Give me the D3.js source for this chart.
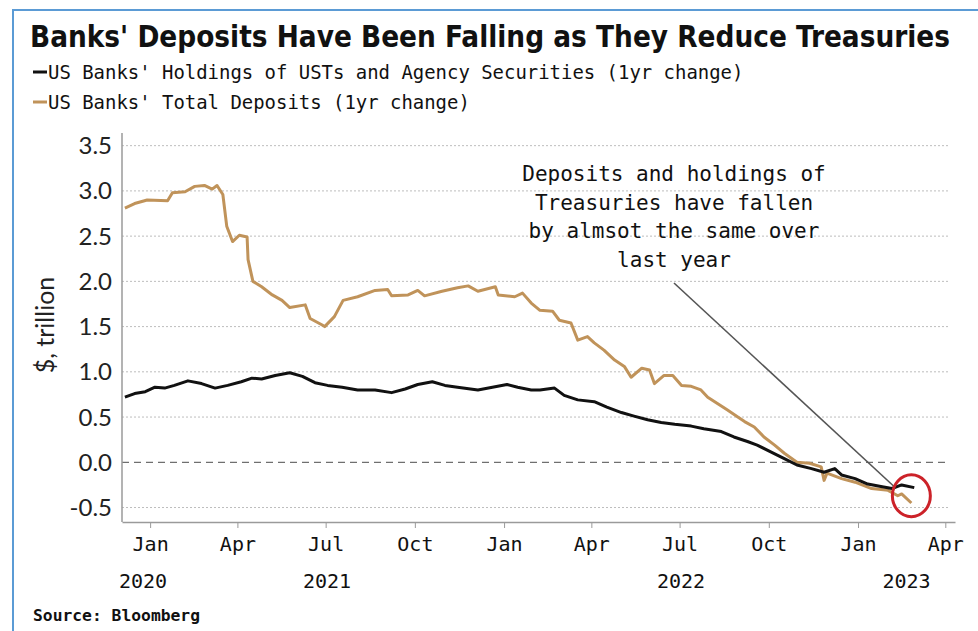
<!DOCTYPE html>
<html>
<head>
<meta charset="utf-8">
<script src="https://cdn.jsdelivr.net/npm/d3@7"></script>
<style>
  body { margin: 0; background: #fff; }
</style>
</head>
<body>
<svg id="chart" width="978" height="631"></svg>
<script>
// ---- Data -------------------------------------------------------------
const titleText = "Banks' Deposits Have Been Falling as They Reduce Treasuries";
const seriesNames = [
  "US Banks' Holdings of USTs and Agency Securities (1yr change)",
  "US Banks' Total Deposits (1yr change)"
];

// US banks' holdings of Treasuries and agency securities, 1yr change ($ trillion)
const holdingsDates = [
  "2020-12-06","2020-12-16","2020-12-27","2021-01-06","2021-01-16","2021-01-26",
  "2021-02-09","2021-02-23","2021-03-09","2021-03-22","2021-04-05","2021-04-16",
  "2021-04-26","2021-05-10","2021-05-25","2021-06-07","2021-06-20","2021-07-03",
  "2021-07-18","2021-08-03","2021-08-21","2021-09-07","2021-09-21","2021-10-04",
  "2021-10-19","2021-11-01","2021-11-14","2021-12-05","2021-12-20","2022-01-04",
  "2022-01-15","2022-01-29","2022-02-07","2022-02-22","2022-03-04","2022-03-18",
  "2022-04-04","2022-04-17","2022-05-02","2022-05-15","2022-05-29","2022-06-12",
  "2022-06-26","2022-07-13","2022-07-26","2022-08-13","2022-08-26","2022-09-09",
  "2022-09-19","2022-10-04","2022-10-17","2022-10-30","2022-11-14","2022-11-27",
  "2022-12-08","2022-12-15","2022-12-29","2023-01-11","2023-01-26","2023-02-05",
  "2023-02-15","2023-02-28"
];
const holdingsValues = [
  0.72, 0.76, 0.78, 0.83, 0.82, 0.85,
  0.90, 0.87, 0.82, 0.85, 0.89, 0.93,
  0.92, 0.96, 0.99, 0.95, 0.88, 0.85,
  0.83, 0.80, 0.80, 0.77, 0.81, 0.86,
  0.89, 0.85, 0.83, 0.80, 0.83, 0.86,
  0.83, 0.80, 0.80, 0.82, 0.74, 0.69,
  0.67, 0.61, 0.55, 0.51, 0.47, 0.44,
  0.42, 0.40, 0.37, 0.34, 0.28, 0.23,
  0.19, 0.11, 0.04, -0.03, -0.07, -0.11,
  -0.07, -0.14, -0.18, -0.24, -0.27, -0.29,
  -0.25, -0.28
];

// US banks' total deposits, 1yr change ($ trillion)
const depositsDates = [
  "2020-12-06","2020-12-16","2020-12-29","2021-01-19","2021-01-24","2021-02-06",
  "2021-02-16","2021-02-26","2021-03-06","2021-03-11","2021-03-17","2021-03-21",
  "2021-03-27","2021-04-03","2021-04-11","2021-04-12","2021-04-17","2021-04-26",
  "2021-05-07","2021-05-17","2021-05-25","2021-06-10","2021-06-15","2021-06-27",
  "2021-06-30","2021-07-10","2021-07-19","2021-08-03","2021-08-21","2021-09-03",
  "2021-09-07","2021-09-24","2021-10-04","2021-10-11","2021-10-29","2021-11-14",
  "2021-11-25","2021-12-05","2021-12-23","2021-12-26","2022-01-12","2022-01-20",
  "2022-01-29","2022-02-07","2022-02-20","2022-02-27","2022-03-11","2022-03-18",
  "2022-03-28","2022-04-04","2022-04-14","2022-04-25","2022-05-05","2022-05-12",
  "2022-05-23","2022-05-31","2022-06-05","2022-06-15","2022-06-24","2022-07-03",
  "2022-07-13","2022-07-23","2022-07-30","2022-08-09","2022-08-19","2022-08-30",
  "2022-09-06","2022-09-16","2022-09-26","2022-10-07","2022-10-17","2022-10-30",
  "2022-11-12","2022-11-24","2022-11-27","2022-11-30","2022-12-15","2022-12-29",
  "2023-01-15","2023-02-01","2023-02-11","2023-02-15","2023-02-25"
];
const depositsValues = [
  2.81, 2.86, 2.90, 2.89, 2.98, 2.99,
  3.05, 3.06, 3.02, 3.06, 2.96, 2.61,
  2.44, 2.51, 2.49, 2.24, 2.00, 1.94,
  1.85, 1.79, 1.71, 1.74, 1.59, 1.52,
  1.50, 1.61, 1.79, 1.83, 1.90, 1.91,
  1.84, 1.85, 1.90, 1.84, 1.89, 1.93,
  1.95, 1.89, 1.94, 1.85, 1.83, 1.87,
  1.76, 1.68, 1.67, 1.57, 1.54, 1.35,
  1.39, 1.32, 1.24, 1.13, 1.06, 0.94,
  1.04, 1.02, 0.87, 0.96, 0.96, 0.85,
  0.84, 0.80, 0.72, 0.65, 0.58, 0.50,
  0.45, 0.39, 0.28, 0.19, 0.10, 0.00,
  -0.01, -0.05, -0.20, -0.12, -0.18, -0.22,
  -0.29, -0.31, -0.37, -0.35, -0.45
];

const yTicks = [-0.5, 0.0, 0.5, 1.0, 1.5, 2.0, 2.5, 3.0, 3.5];
const monthTicks = [
  "2021-01-01","2021-04-01","2021-07-01","2021-10-01",
  "2022-01-01","2022-04-01","2022-07-01","2022-10-01",
  "2023-01-01","2023-04-01"
];
const yearLabels = ["2020", "2021", "2022", "2023"];
const yAxisTitle = "$, trillion";
const noteLines = [
  "Deposits and holdings of",
  "Treasuries have fallen",
  "by almsot the same over",
  "last year"
];
const sourceText = "Source: Bloomberg";

// ---- Layout -------------------------------------------------------------
const W = 978, H = 631;
const plot = { left: 122, right: 955, top: 133, bottom: 522 };
const colors = { holdings: "#111111", deposits: "#c0935a", grid: "#bdbdbd", axis: "#9a9a9a", frame: "#5b9bd5", ring: "#cc2229" };
const parse = d3.timeParse("%Y-%m-%d");

const svg = d3.select("#chart");

svg.append("rect").attr("width", W).attr("height", H).attr("fill", "#fff");
// blue outer frame
svg.append("rect")
  .attr("x", 13).attr("y", 10).attr("width", 1200).attr("height", 900)
  .attr("fill", "none").attr("stroke", colors.frame).attr("stroke-width", 2);

const x = d3.scaleTime()
  .domain([parse("2020-12-03"), parse("2023-04-11")])
  .range([plot.left, plot.right]);
const y = d3.scaleLinear()
  .domain([-0.66, 3.64])
  .range([plot.bottom, plot.top]);

// ---- Title & legend ----------------------------------------------------
svg.append("text")
  .attr("x", 30).attr("y", 47)
  .attr("font-family", "'Liberation Sans Narrow','DejaVu Sans Condensed','Liberation Sans',sans-serif")
  .attr("font-weight", "bold").attr("font-size", 30)
  .attr("textLength", 920).attr("lengthAdjust", "spacingAndGlyphs")
  .attr("fill", "#111").text(titleText);

const legend = svg.append("g");
[colors.holdings, colors.deposits].forEach((c, i) => {
  const ly = 72 + i * 30;
  legend.append("line")
    .attr("x1", 33).attr("x2", 47).attr("y1", ly).attr("y2", ly)
    .attr("stroke", c).attr("stroke-width", 3);
  legend.append("text")
    .attr("x", 48).attr("y", ly + 7)
    .attr("font-family", "'DejaVu Sans Mono',monospace").attr("font-size", 19)
    .attr("textLength", seriesNames[i].length * 11.4).attr("lengthAdjust", "spacingAndGlyphs")
    .attr("fill", "#111").text(seriesNames[i]);
});

// ---- Grid ---------------------------------------------------------------
const grid = svg.append("g");
grid.selectAll("line").data(yTicks).join("line")
  .attr("x1", plot.left).attr("x2", plot.right - 7)
  .attr("y1", d => y(d)).attr("y2", d => y(d))
  .attr("stroke", d => d === 0 ? "#6f6f6f" : colors.grid)
  .attr("stroke-width", d => d === 0 ? 1.2 : 1)
  .attr("stroke-dasharray", d => d === 0 ? "7,5" : "2,2");

// ---- Axes ---------------------------------------------------------------
const yAxis = svg.append("g");
yAxis.append("line")
  .attr("x1", plot.left).attr("x2", plot.left)
  .attr("y1", plot.top).attr("y2", plot.bottom)
  .attr("stroke", colors.axis).attr("stroke-width", 1.5);
const yFmt = d3.format(".1f");
yAxis.selectAll("text").data(yTicks).join("text")
  .attr("x", plot.left - 10).attr("y", d => y(d) + 8.5)
  .attr("text-anchor", "end")
  .attr("font-family", "Lato,'Open Sans',sans-serif").attr("font-size", 24)
  .attr("fill", "#222")
  .text(d => yFmt(d).replace("\u2212", "-"));

svg.append("text")
  .attr("transform", `translate(54,325) rotate(-90)`)
  .attr("text-anchor", "middle")
  .attr("font-family", "Lato,'Open Sans',sans-serif").attr("font-size", 25)
  .attr("fill", "#222").text(yAxisTitle);

const monthFmt = d3.timeFormat("%b");
const xAxis = svg.append("g")
  .attr("transform", `translate(0,${plot.bottom})`)
  .call(d3.axisBottom(x)
    .tickValues(monthTicks.map(parse))
    .tickFormat(monthFmt)
    .tickSize(6).tickSizeOuter(0).tickPadding(9));
xAxis.select(".domain").attr("stroke", colors.axis).attr("stroke-width", 1.5);
xAxis.selectAll(".tick line").attr("stroke", colors.axis);
xAxis.selectAll(".tick text")
  .attr("font-family", "'DejaVu Sans Mono',monospace").attr("font-size", 20)
  .attr("fill", "#111");

// year labels centred on the visible span of each year
const yearG = svg.append("g");
yearLabels.forEach(yr => {
  const a = Math.max(x(parse(yr + "-01-01")), plot.left);
  const b = Math.min(x(parse((+yr + 1) + "-01-01")), plot.right);
  const cx = Math.max((a + b) / 2, plot.left + 21);
  yearG.append("text")
    .attr("x", cx).attr("y", 588)
    .attr("text-anchor", "middle")
    .attr("font-family", "'DejaVu Sans Mono',monospace").attr("font-size", 20)
    .attr("fill", "#111").text(yr);
});

// ---- Series -------------------------------------------------------------
const holdings = holdingsDates.map((d, i) => ({ date: parse(d), value: holdingsValues[i] }));
const deposits = depositsDates.map((d, i) => ({ date: parse(d), value: depositsValues[i] }));
const line = d3.line().x(d => x(d.date)).y(d => y(d.value));

svg.append("path").datum(deposits)
  .attr("fill", "none").attr("stroke", colors.deposits)
  .attr("stroke-width", 3).attr("stroke-linejoin", "round")
  .attr("d", line);
svg.append("path").datum(holdings)
  .attr("fill", "none").attr("stroke", colors.holdings)
  .attr("stroke-width", 3).attr("stroke-linejoin", "round")
  .attr("d", line);

// ---- Annotation ---------------------------------------------------------
const note = svg.append("g");
noteLines.forEach((t, i) => {
  note.append("text")
    .attr("x", 674).attr("y", 181 + i * 28.7)
    .attr("text-anchor", "middle")
    .attr("font-family", "'DejaVu Sans Mono',monospace").attr("font-size", 21)
    .attr("fill", "#111").text(t);
});

const ringX = x(parse("2023-02-25"));
const ringY = y(-0.37);
note.append("line")
  .attr("x1", 674).attr("y1", 283)
  .attr("x2", ringX - 17).attr("y2", ringY - 9)
  .attr("stroke", "#555").attr("stroke-width", 1.6);
note.append("ellipse")
  .attr("cx", ringX).attr("cy", ringY)
  .attr("rx", 19).attr("ry", 21)
  .attr("fill", "none").attr("stroke", colors.ring).attr("stroke-width", 3);

// ---- Source -------------------------------------------------------------
svg.append("text")
  .attr("x", 33).attr("y", 621)
  .attr("font-family", "'DejaVu Sans Mono',monospace").attr("font-weight", "bold")
  .attr("font-size", 15).attr("textLength", 167).attr("lengthAdjust", "spacingAndGlyphs")
  .attr("fill", "#111").text(sourceText);
</script>
</body>
</html>
